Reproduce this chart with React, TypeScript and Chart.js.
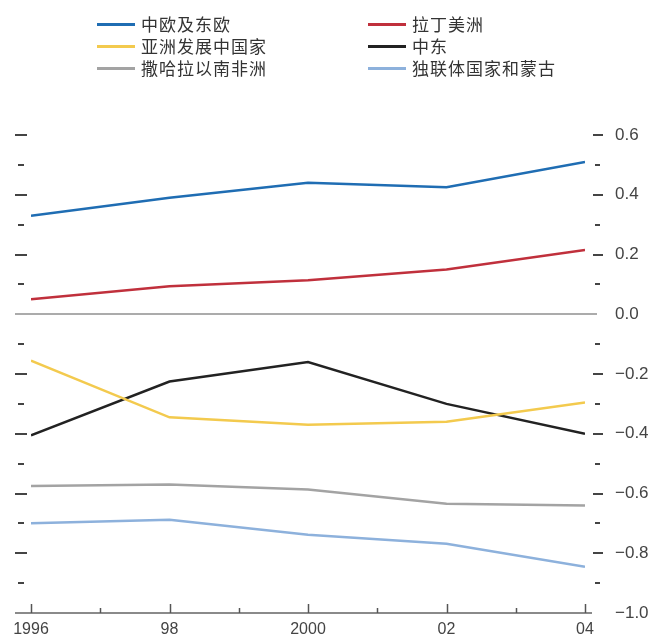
import React, { useEffect, useRef } from "react";
import { Chart, registerables } from "chart.js";

Chart.register(...registerables);

const years = [1996, 1998, 2000, 2002, 2004];
const xTickLabels: Record<number, string> = { 1996: "1996", 1998: "98", 2000: "2000", 2002: "02", 2004: "04" };

const centralEasternEurope = [0.33, 0.39, 0.44, 0.425, 0.51];
const latinAmerica = [0.05, 0.094, 0.114, 0.15, 0.215];
const developingAsia = [-0.155, -0.345, -0.37, -0.36, -0.295];
const middleEast = [-0.405, -0.225, -0.16, -0.3, -0.4];
const subSaharanAfrica = [-0.575, -0.57, -0.587, -0.634, -0.64];
const cisMongolia = [-0.70, -0.688, -0.738, -0.768, -0.845];

const seriesNames = ["中欧及东欧", "拉丁美洲", "亚洲发展中国家", "中东", "撒哈拉以南非洲", "独联体国家和蒙古"];
const seriesColors = ["#1f6db3", "#c0303c", "#f3ca4e", "#222222", "#a3a3a3", "#8db1dc"];
const seriesValues = [centralEasternEurope, latinAmerica, developingAsia, middleEast, subSaharanAfrica, cisMongolia];

const FONT = "'Liberation Sans', Arial, sans-serif";

const axesPlugin = {
  id: "customAxes",
  beforeDatasetsDraw(chart: any) {
    const ctx = chart.ctx;
    const x = chart.scales.x;
    const y = chart.scales.y;
    ctx.save();
    // zero line
    const y0 = Math.round(y.getPixelForValue(0));
    ctx.strokeStyle = "#ababab";
    ctx.lineWidth = 2;
    ctx.beginPath();
    ctx.moveTo(15, y0);
    ctx.lineTo(597, y0);
    ctx.stroke();
    // x axis
    const yb = Math.round(y.getPixelForValue(-1));
    ctx.strokeStyle = "#8a8a8a";
    ctx.beginPath();
    ctx.moveTo(15, yb);
    ctx.lineTo(592, yb);
    ctx.stroke();
    // x ticks
    ctx.strokeStyle = "#555";
    ctx.lineWidth = 1.5;
    for (let yr = 1996; yr <= 2004; yr++) {
      const px = Math.round(x.getPixelForValue(yr)) + 0.5;
      const len = yr % 2 === 0 ? 9 : 5;
      ctx.beginPath();
      ctx.moveTo(px, yb);
      ctx.lineTo(px, yb - len);
      ctx.stroke();
    }
    // y dashes on both sides
    ctx.strokeStyle = "#444";
    ctx.lineWidth = 2;
    for (let i = -9; i <= 6; i++) {
      if (i === 0) continue;
      const py = Math.round(y.getPixelForValue(i / 10));
      const major = i % 2 === 0;
      ctx.beginPath();
      if (major) {
        ctx.moveTo(15, py); ctx.lineTo(27, py);
        ctx.moveTo(593, py); ctx.lineTo(603, py);
      } else {
        ctx.moveTo(18, py); ctx.lineTo(24, py);
        ctx.moveTo(595, py); ctx.lineTo(600, py);
      }
      ctx.stroke();
    }
    ctx.restore();
  },
};

export default function App() {
  const ref = useRef<HTMLCanvasElement>(null);
  useEffect(() => {
    const chart = new Chart(ref.current as HTMLCanvasElement, {
      type: "line",
      data: {
        datasets: seriesValues.map((vals, i) => ({
          label: seriesNames[i],
          data: years.map((yr, j) => ({ x: yr, y: vals[j] })),
          borderColor: seriesColors[i],
          backgroundColor: seriesColors[i],
          borderWidth: 2.5,
          pointRadius: 0,
          tension: 0,
        })),
      },
      options: {
        animation: false,
        responsive: false,
        layout: { padding: { top: 135, left: 31, right: 0, bottom: 0 } },
        plugins: { legend: { display: false }, tooltip: { enabled: false } },
        scales: {
          x: {
            type: "linear",
            min: 1996,
            max: 2004,
            grid: { display: false, drawTicks: false },
            border: { display: false },
            afterFit: (s: any) => { s.height = 27; },
            ticks: {
              stepSize: 1,
              autoSkip: false,
              maxRotation: 0,
              padding: 7,
              color: "#444",
              font: { family: FONT, size: 16 },
              callback: (v: any) => xTickLabels[Number(v)] ?? "",
            },
          },
          y: {
            position: "right",
            min: -1.0,
            max: 0.6,
            grid: { display: false, drawTicks: false },
            border: { display: false },
            afterFit: (s: any) => { s.width = 66; s.paddingTop = 0; s.paddingBottom = 0; },
            ticks: {
              stepSize: 0.2,
              padding: 30,
              color: "#444",
              font: { family: FONT, size: 17 },
              callback: (v: any) => {
                const n = Number(v);
                const s = Math.abs(n).toFixed(1);
                return n < -0.001 ? "\u2212" + s : s;
              },
            },
          },
        },
      },
      plugins: [axesPlugin],
    });
    return () => chart.destroy();
  }, []);

  const legendItem = (i: number, left: number, top: number) => (
    <div key={i} style={{ position: "absolute", left, top, display: "flex", alignItems: "center", height: 22 }}>
      <div style={{ width: 38, height: 3, background: seriesColors[i], marginRight: 6 }} />
      <span style={{ fontFamily: "'Noto Sans CJK SC', sans-serif", fontSize: 17, letterSpacing: 1, color: "#333", lineHeight: "22px" }}>
        {seriesNames[i]}
      </span>
    </div>
  );

  return (
    <div style={{ position: "absolute", left: 0, top: 0, width: 651, height: 640 }}>
      <canvas ref={ref} width={651} height={640} style={{ display: "block" }} />
      {legendItem(0, 97, 13)}
      {legendItem(1, 368, 13)}
      {legendItem(2, 97, 35)}
      {legendItem(3, 368, 35)}
      {legendItem(4, 97, 57)}
      {legendItem(5, 368, 57)}
    </div>
  );
}
